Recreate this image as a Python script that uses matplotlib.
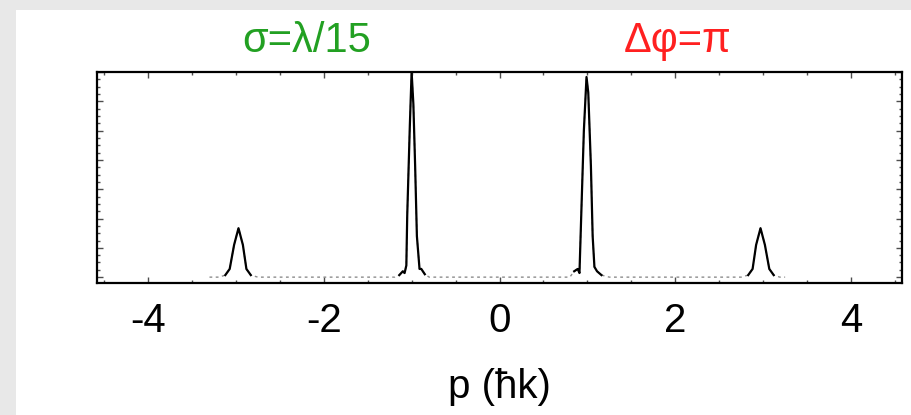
import numpy as np
import matplotlib.pyplot as plt
from matplotlib.patches import Rectangle
from matplotlib.ticker import MultipleLocator

# momentum distribution (p in units of hbar*k)
p_vals = [-3.30, -3.19, -3.12, -3.07, -3.02, -2.97, -2.92, -2.88, -2.83, -2.75, -2.45,
          -1.80, -1.19, -1.14, -1.10, -1.08, -1.06, -1.05, -1.02, -1.00, -0.98, -0.96,
          -0.94, -0.91, -0.89, -0.85, -0.80, 0.0,
          0.80, 0.85, 0.89, 0.91, 0.93, 0.96, 0.99, 1.01, 1.04, 1.06, 1.08, 1.11,
          1.16, 1.25, 1.80, 2.45, 2.75, 2.83, 2.88, 2.92, 2.97, 3.02, 3.07, 3.12,
          3.19, 3.25]
intensity = [0.0, 0.0, 0.07, 0.28, 1.1, 1.67, 1.1, 0.28, 0.07, 0.0, 0.0,
             0.0, 0.0, 0.07, 0.2, 0.14, 0.4, 2.1, 5.2, 7.0, 5.9, 3.8,
             1.4, 0.28, 0.28, 0.1, 0.0, 0.0,
             0.0, 0.2, 0.28, 0.14, 2.1, 5.0, 6.83, 6.3, 3.8, 1.4, 0.35, 0.2,
             0.07, 0.0, 0.0, 0.0, 0.0, 0.07, 0.28, 1.1, 1.67, 1.1, 0.28, 0.07,
             0.0, 0.0]

xticks = [-4, -2, 0, 2, 4]
xtick_labels = ['-4', '-2', '0', '2', '4']

p = np.array(p_vals)
I = np.array(intensity)

plt.rcParams['font.family'] = ['Liberation Sans', 'DejaVu Sans']

fig = plt.figure(figsize=(9.11, 4.15), dpi=100)
fig.patch.set_facecolor('#e8e8e8')
fig.patches.append(Rectangle((16 / 911, 0), 1, 1 - 10 / 415, transform=fig.transFigure,
                             facecolor='white', edgecolor='none', zorder=-5))

ax = fig.add_axes([97 / 911, 132 / 415, 805 / 911, 211 / 415])
ax.set_zorder(2)

# faint dotted baseline plus the solid peaks on top
ax.plot(p, I, color='0.55', lw=1.0, dashes=(2, 2.5))
peaks = np.ma.masked_where(I < 0.05, I)
ax.plot(p, peaks, color='black', lw=1.6)

ax.set_xlim(-4.58, 4.58)
ax.set_ylim(-0.2, 7.0)
ax.set_xticks(xticks)
ax.set_xticklabels(xtick_labels)
ax.xaxis.set_minor_locator(MultipleLocator(0.5))
ax.yaxis.set_major_locator(MultipleLocator(1))
ax.yaxis.set_minor_locator(MultipleLocator(0.25))
ax.tick_params(which='both', direction='in', top=True, right=True, labelleft=False,
               width=1.0, color='0.3')
ax.tick_params(which='major', length=4, labelsize=29, pad=14)
ax.tick_params(which='minor', length=2.5)
for s in ax.spines.values():
    s.set_linewidth(1.6)

ax.set_xlabel('p (ħk)', fontsize=29, labelpad=20)

fig.text(307 / 911, 1 - 41 / 415, 'σ=λ/15', color='#22a022', fontsize=30,
         ha='center', va='center')
fig.text(678 / 911, 1 - 41 / 415, 'Δφ=π', color='#ff2020', fontsize=30,
         ha='center', va='center')

fig.savefig('out.png', dpi=100, facecolor=fig.get_facecolor())
